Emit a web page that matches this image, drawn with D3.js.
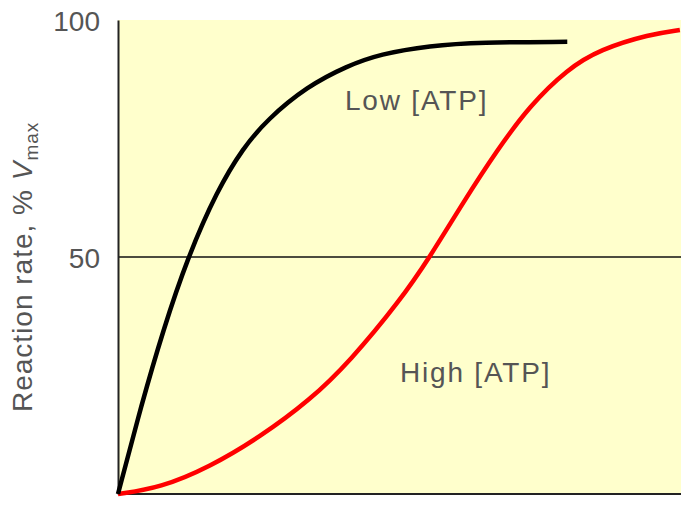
<!DOCTYPE html>
<html>
<head>
<meta charset="utf-8">
<script src="https://cdn.jsdelivr.net/npm/d3@7"></script>
<style>
  body { margin: 0; background: #fff; }
  text { font-family: "Liberation Sans", Arial, sans-serif; }
</style>
</head>
<body>
<div id="chart"></div>
<script>
////////////////////////////// data //////////////////////////////

// substrate concentration, arbitrary units (no ticks on the x axis)
var lowX   = [0, 4.2, 8.0, 12.4, 17.6, 22.2, 26.5, 33.6, 40.7, 46.5, 55.4, 64.3, 79.8];
var lowY   = [0, 19, 34.5, 50, 64, 73, 79, 86, 90.3, 92.8, 94.6, 95.3, 95.4];

var highX  = [0, 7.5, 16.3, 25.2, 34.1, 41.2, 50.1, 55.4, 61.3, 67.3, 73.2, 79.8, 85.6, 94.5, 99.8];
var highY  = [0, 1.3, 5.7, 12.0, 19.8, 28.0, 40.8, 50, 61.5, 72.5, 82.0, 89.6, 93.8, 97.0, 97.9];

var yTicks = [50, 100];
var refLine = 50;
var labels = ["Low [ATP]", "High [ATP]"];

////////////////////////////// setup //////////////////////////////

var width = 686, height = 508;
// plot box edges ("top" is reserved by window, hence the prefix)
var plotLeft = 118, plotRight = 681, plotTop = 20, plotBottom = 494;

var svg = d3.select("#chart").append("svg")
  .attr("width", width)
  .attr("height", height);

var x = d3.scaleLinear().domain([0, 100]).range([plotLeft, plotRight]);
var y = d3.scaleLinear().domain([0, 100]).range([plotBottom, plotTop]);

// pale yellow plot area
svg.append("rect")
  .attr("x", plotLeft).attr("y", plotTop)
  .attr("width", plotRight - plotLeft).attr("height", plotBottom - plotTop)
  .attr("fill", "#ffffcc");

// 50% line
svg.append("line")
  .attr("x1", x(0)).attr("x2", x(100))
  .attr("y1", y(refLine)).attr("y2", y(refLine))
  .attr("stroke", "#111").attr("stroke-width", 1.5);

// bottom axis line
svg.append("line")
  .attr("x1", x(0)).attr("x2", x(100))
  .attr("y1", y(0)).attr("y2", y(0))
  .attr("stroke", "#222").attr("stroke-width", 2);

// left axis
var yAxis = svg.append("g")
  .attr("transform", "translate(" + plotLeft + ",0)")
  .call(d3.axisLeft(y).tickValues(yTicks).tickSize(0).tickPadding(18));
yAxis.select(".domain").attr("stroke", "#222").attr("stroke-width", 2);
yAxis.selectAll("text")
  .attr("font-size", 28)
  .attr("font-family", "Liberation Sans, Arial, sans-serif")
  .attr("fill", "#555")
  .attr("dy", "0.36em");

// axis title
var title = svg.append("text")
  .attr("transform", "translate(32,412) rotate(-90)")
  .attr("font-size", 28)
  .attr("fill", "#555")
  .attr("letter-spacing", 1);
title.append("tspan").text("Reaction rate, % ");
title.append("tspan").attr("font-style", "italic").text("V");
title.append("tspan").attr("font-size", 19).attr("dy", 6).text("max");

////////////////////////////// curves //////////////////////////////

var line = d3.line()
  .x(function(d) { return x(d[0]); })
  .y(function(d) { return y(d[1]); })
  .curve(d3.curveBasis);

var lowData = d3.zip(lowX, lowY);
var highData = d3.zip(highX, highY);

svg.append("path")
  .attr("d", line(highData))
  .attr("fill", "none")
  .attr("stroke", "#ff0000")
  .attr("stroke-width", 4.5);

svg.append("path")
  .attr("d", line(lowData))
  .attr("fill", "none")
  .attr("stroke", "#000")
  .attr("stroke-width", 4.5);

// curve labels
svg.append("text")
  .attr("x", 345).attr("y", 110)
  .attr("font-size", 28).attr("fill", "#555").attr("letter-spacing", 1.8)
  .text(labels[0]);

svg.append("text")
  .attr("x", 400).attr("y", 382)
  .attr("font-size", 28).attr("fill", "#555").attr("letter-spacing", 1.8)
  .text(labels[1]);
</script>
</body>
</html>
